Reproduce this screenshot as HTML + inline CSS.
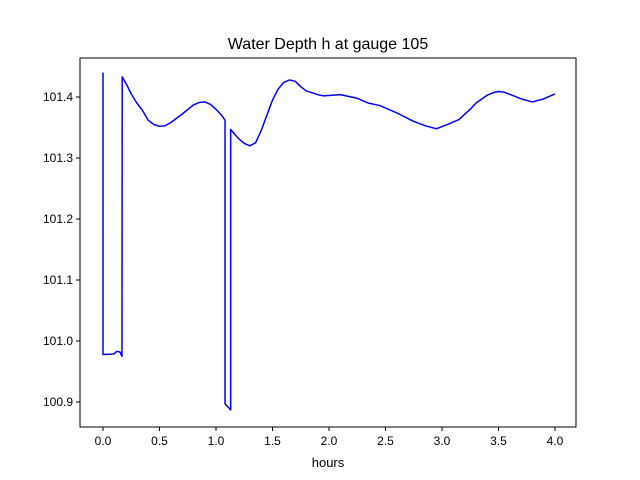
<!DOCTYPE html>
<html><head><meta charset="utf-8"><style>
body{margin:0;background:#fff}
svg{display:block;font-family:"Liberation Sans","DejaVu Sans",sans-serif}
</style></head><body>
<svg id="chart" width="640" height="480">
<rect width="640" height="480" fill="#fff"/>
<text x="328" y="49" text-anchor="middle" font-size="16">Water Depth h at gauge 105</text>
<g id="plot"></g>
<rect x="80" y="58" width="496" height="369" fill="none" stroke="#000" stroke-width="1"/>
<text x="328" y="467" text-anchor="middle" font-size="13">hours</text>
</svg>
<script>
const hours=[0,0,0.05,0.1,0.12,0.15,0.168,0.17,0.21,0.25,0.3,0.35,0.4,0.45,0.5,0.55,0.6,0.7,0.8,0.85,0.9,0.95,1.0,1.05,1.08,1.08,1.13,1.13,1.17,1.2,1.25,1.3,1.35,1.4,1.45,1.5,1.55,1.6,1.65,1.7,1.75,1.8,1.9,1.95,2.1,2.25,2.35,2.45,2.6,2.75,2.85,2.95,3.05,3.15,3.25,3.3,3.4,3.45,3.5,3.55,3.62,3.7,3.8,3.9,4.0];
const depth=[101.44,100.978,100.978,100.979,100.983,100.982,100.975,101.433,101.42,101.405,101.39,101.378,101.362,101.355,101.352,101.353,101.358,101.372,101.387,101.391,101.392,101.388,101.38,101.37,101.362,100.897,100.887,101.347,101.338,101.332,101.324,101.32,101.325,101.345,101.37,101.395,101.413,101.424,101.428,101.426,101.417,101.41,101.404,101.402,101.404,101.398,101.39,101.386,101.374,101.36,101.353,101.348,101.355,101.363,101.38,101.39,101.403,101.407,101.409,101.408,101.403,101.397,101.392,101.397,101.405];
const xTicks=[0,0.5,1,1.5,2,2.5,3,3.5,4];
const xTickLabels=["0.0","0.5","1.0","1.5","2.0","2.5","3.0","3.5","4.0"];
const yTicks=[100.9,101.0,101.1,101.2,101.3,101.4];
const yTickLabels=["100.9","101.0","101.1","101.2","101.3","101.4"];
const L=80,R=576,T=58,B=427;
const xmin=-0.2035,xmax=4.186,ymin=100.859,ymax=101.464;
const sx=v=>L+(v-xmin)/(xmax-xmin)*(R-L);
const sy=v=>B-(v-ymin)/(ymax-ymin)*(B-T);
const NS="http://www.w3.org/2000/svg";
const g=document.getElementById('plot');
function mk(t,a){const e=document.createElementNS(NS,t);for(const k in a)e.setAttribute(k,a[k]);g.appendChild(e);return e;}
xTicks.forEach((v,i)=>{
  const l=mk('line',{x1:sx(v),x2:sx(v),y1:B,y2:B+4,stroke:'#000'});
  
  
  const t=mk('text',{x:sx(v),y:B+18,'text-anchor':'middle','font-size':'12'});
  t.textContent=xTickLabels[i];
  
  
});
yTicks.forEach((v,i)=>{
  const l=mk('line',{x1:L-4,x2:L,y1:sy(v),y2:sy(v),stroke:'#000'});
  
  
  const t=mk('text',{x:L-7,y:sy(v)+4,'text-anchor':'end','font-size':'12'});
  t.textContent=yTickLabels[i];
  
  
});
const p=mk('polyline',{points:hours.map((h,i)=>sx(h)+','+sy(depth[i])).join(' '),fill:'none',stroke:'#0000ff','stroke-width':'1.5','stroke-linejoin':'round'});


</script>
</body></html>
